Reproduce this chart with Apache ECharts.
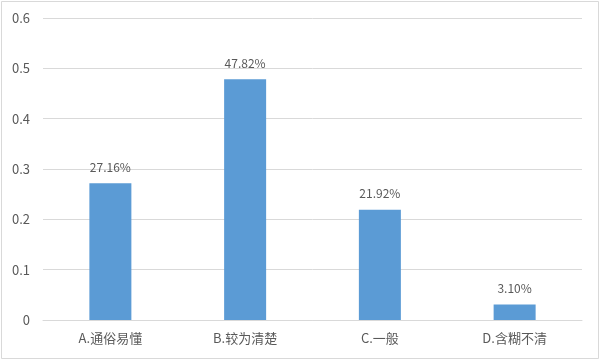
<!DOCTYPE html>
<html><head><meta charset="utf-8">
<script src="https://cdn.jsdelivr.net/npm/echarts@6/dist/echarts.min.js"></script>
<style>html,body{margin:0;padding:0;background:#fff}#c{width:601px;height:361px}</style>
</head><body><div id="c"></div>
<script>
var categories = ['A.通俗易懂', 'B.较为清楚', 'C.一般', 'D.含糊不清'];
var values = [0.2716, 0.4782, 0.2192, 0.031];
var labels = ['27.16%', '47.82%', '21.92%', '3.10%'];
var yTicks = [0, 0.1, 0.2, 0.3, 0.4, 0.5, 0.6];

var font = '"Noto Sans CJK SC", "Microsoft YaHei", sans-serif';
var chart = echarts.init(document.getElementById('c'), null, {renderer: 'canvas'});
chart.setOption({
  animation: false,
  backgroundColor: '#fff',
  textStyle: {fontFamily: font},
  graphic: [{type: 'rect', shape: {x: 1.5, y: 1.5, width: 597, height: 357}, style: {fill: 'none', stroke: '#d9d9d9', lineWidth: 1}}],
  grid: {left: 43, right: 19, top: 18, bottom: 41, containLabel: false},
  xAxis: {
    type: 'category', data: categories,
    axisLine: {lineStyle: {color: '#d9d9d9'}},
    axisTick: {show: false},
    axisLabel: {color: '#595959', fontSize: 13, fontFamily: font, margin: 12}
  },
  yAxis: {
    type: 'value', min: yTicks[0], max: yTicks[yTicks.length - 1], interval: 0.1,
    axisLine: {show: false}, axisTick: {show: false},
    splitLine: {lineStyle: {color: '#d9d9d9'}},
    axisLabel: {color: '#595959', fontSize: 13, fontFamily: font, margin: 13}
  },
  series: [{
    type: 'bar', data: values, barWidth: 42,
    itemStyle: {color: '#5b9bd5'},
    label: {show: true, position: 'top', distance: 10, color: '#595959', fontSize: 12, fontFamily: font,
      formatter: function (p) { return labels[p.dataIndex]; }}
  }]
});
</script></body></html>
